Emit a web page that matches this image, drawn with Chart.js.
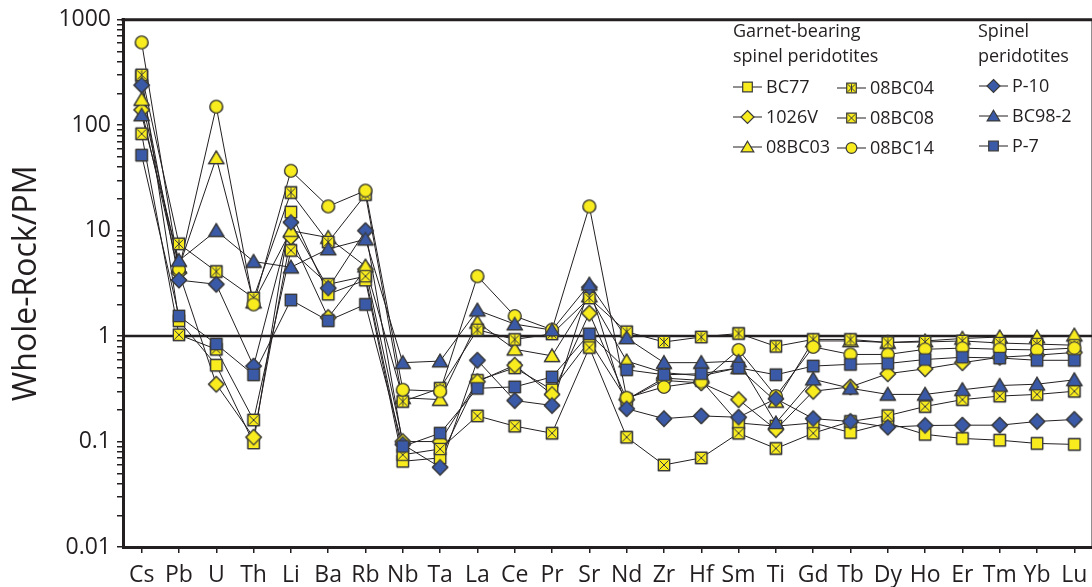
<!DOCTYPE html>
<html>
<head>
<meta charset="utf-8">
<script src="https://cdn.jsdelivr.net/npm/chart.js@4.4.1/dist/chart.umd.min.js"></script>
<style>
  html, body { margin: 0; padding: 0; background: #fff; overflow: hidden; }
  #wrap { width: 1092px; height: 587px; overflow: hidden; position: relative; }
  canvas { display: block; }
</style>
</head>
<body>
<div id="wrap"><canvas id="spider" width="1100" height="587"></canvas></div>
<script>
// element order along the x axis
const elements = ['Cs', 'Pb', 'U', 'Th', 'Li', 'Ba', 'Rb', 'Nb', 'Ta', 'La', 'Ce', 'Pr', 'Sr',
                  'Nd', 'Zr', 'Hf', 'Sm', 'Ti', 'Gd', 'Tb', 'Dy', 'Ho', 'Er', 'Tm', 'Yb', 'Lu'];
const yTickLabels = [0.01, 0.1, 1, 10, 100, 1000];
const pmLevel = 1;

// garnet-bearing spinel peridotites
const bc77   = [290, 1.4, 0.53, 0.097, 15, 2.5, 3.4, 0.065, 0.07, 0.38, 0.5, 0.31, 0.9, 0.25, 0.4, 0.38, 0.15, 0.14, 0.15, 0.122, 0.15, 0.117, 0.107, 0.103, 0.096, 0.094];
const v1026  = [140, 4.0, 0.35, 0.11, 8.7, 1.5, 4.3, 0.1, 0.1, 0.37, 0.53, 0.28, 1.65, 0.25, 0.38, 0.36, 0.25, 0.13, 0.3, 0.33, 0.44, 0.49, 0.56, 0.63, 0.66, 0.7];
const bc03   = [175, 4.5, 49, 2.1, 10, 8.6, 4.6, 0.26, 0.25, 1.35, 0.75, 0.65, 2.4, 0.58, 0.45, 0.42, 0.5, 0.24, 0.9, 0.9, 0.87, 0.9, 0.95, 0.98, 0.98, 1.02];
const bc04   = [300, 7.5, 4.1, 2.3, 23, 7.8, 22, 0.24, 0.32, 1.15, 0.93, 1.05, 2.3, 1.1, 0.88, 0.98, 1.06, 0.8, 0.93, 0.93, 0.87, 0.88, 0.9, 0.86, 0.84, 0.82];
const bc08   = [83, 1.03, 0.75, 0.16, 6.5, 3.1, 3.7, 0.075, 0.085, 0.175, 0.14, 0.12, 0.78, 0.11, 0.06, 0.07, 0.12, 0.086, 0.12, 0.155, 0.176, 0.215, 0.25, 0.27, 0.28, 0.3];
const bc14   = [610, 4.3, 150, 2.0, 37, 17, 24, 0.31, 0.3, 3.7, 1.55, 1.15, 17, 0.26, 0.33, 0.37, 0.74, 0.27, 0.79, 0.67, 0.67, 0.75, 0.77, 0.75, 0.74, 0.77];
// spinel peridotites
const p10    = [240, 3.4, 3.1, 0.52, 12, 2.85, 10, 0.094, 0.057, 0.59, 0.245, 0.22, 2.9, 0.205, 0.165, 0.175, 0.17, 0.255, 0.165, 0.155, 0.137, 0.142, 0.143, 0.143, 0.155, 0.162];
const bc98   = [125, 5.2, 10, 5.1, 4.5, 6.7, 8.3, 0.56, 0.58, 1.76, 1.3, 1.14, 3.1, 0.96, 0.56, 0.56, 0.58, 0.15, 0.39, 0.32, 0.28, 0.28, 0.31, 0.34, 0.35, 0.385];
const p7     = [52, 1.55, 0.84, 0.43, 2.2, 1.4, 2.0, 0.09, 0.12, 0.32, 0.33, 0.41, 1.05, 0.48, 0.43, 0.44, 0.5, 0.43, 0.52, 0.54, 0.55, 0.6, 0.63, 0.62, 0.59, 0.59];

const YELLOW = '#f8ec1e';
const BLUE = '#3a5aa8';
const INK = '#231f20';
const FONT = "'Open Sans', 'Noto Sans', sans-serif";

function drawMarker(ctx, shape, fill, x, y, s) {
    ctx.save();
    ctx.fillStyle = fill;
    ctx.strokeStyle = '#3a3a3a';
    ctx.lineWidth = 1.2;
    ctx.beginPath();
    if (shape === 'circle') {
        ctx.arc(x, y, s * 1.12, 0, Math.PI * 2);
    } else if (shape === 'diamond') {
        const d = s * 1.35;
        ctx.moveTo(x, y - d); ctx.lineTo(x + d, y); ctx.lineTo(x, y + d); ctx.lineTo(x - d, y);
        ctx.closePath();
    } else if (shape === 'triangle') {
        const h = s * 1.2;
        ctx.moveTo(x, y - h); ctx.lineTo(x + h * 1.1, y + h * 0.85); ctx.lineTo(x - h * 1.1, y + h * 0.85);
        ctx.closePath();
    } else {
        ctx.rect(x - s, y - s, s * 2, s * 2);
    }
    ctx.fill();
    ctx.stroke();
    if (shape === 'xsquare' || shape === 'starsquare') {
        ctx.beginPath();
        ctx.lineWidth = 1;
        ctx.moveTo(x - s + 1, y - s + 1); ctx.lineTo(x + s - 1, y + s - 1);
        ctx.moveTo(x + s - 1, y - s + 1); ctx.lineTo(x - s + 1, y + s - 1);
        if (shape === 'starsquare') {
            ctx.moveTo(x, y - s + 1); ctx.lineTo(x, y + s - 1);
        }
        ctx.stroke();
    }
    ctx.restore();
}

function markerImage(shape, fill, s) {
    const c = document.createElement('canvas');
    c.width = 22; c.height = 22;
    drawMarker(c.getContext('2d'), shape, fill, 11, 11, s);
    return c;
}

const series = [
    { label: 'BC77',   data: bc77,  shape: 'square',     fill: YELLOW },
    { label: '1026V',  data: v1026, shape: 'diamond',    fill: YELLOW },
    { label: '08BC03', data: bc03,  shape: 'triangle',   fill: YELLOW },
    { label: '08BC04', data: bc04,  shape: 'starsquare', fill: YELLOW },
    { label: '08BC08', data: bc08,  shape: 'xsquare',    fill: YELLOW },
    { label: '08BC14', data: bc14,  shape: 'circle',     fill: YELLOW },
    { label: 'P-10',   data: p10,   shape: 'diamond',    fill: BLUE },
    { label: 'BC98-2', data: bc98,  shape: 'triangle',   fill: BLUE },
    { label: 'P-7',    data: p7,    shape: 'square',     fill: BLUE }
];

// legend placement: [column x of line start, row y]
const legendSlots = [
    [733, 87], [733, 117], [733, 147],
    [837, 88], [837, 118], [837, 148],
    [979, 86], [979, 116], [979, 146]
];

const yTickValues = [];
yTickLabels.forEach(function(d, i) {
    yTickValues.push(d);
    if (i < yTickLabels.length - 1) {
        for (let m = 2; m <= 9; m++) yTickValues.push(+(d * m).toPrecision(3));
    }
});

const framePlugin = {
    id: 'frame',
    beforeDatasetsDraw(chart) {
        const ctx = chart.ctx;
        const a = chart.chartArea;
        const y1 = chart.scales.y.getPixelForValue(pmLevel);
        ctx.save();
        ctx.strokeStyle = INK;
        ctx.lineWidth = 2.5;
        ctx.beginPath();
        ctx.moveTo(a.left, y1); ctx.lineTo(a.right, y1);
        ctx.stroke();
        ctx.lineWidth = 3;
        ctx.beginPath();
        ctx.moveTo(a.left - 1.5, a.top); ctx.lineTo(a.right, a.top); ctx.lineTo(a.right, a.bottom);
        ctx.stroke();
        ctx.restore();
    },
    afterDatasetsDraw(chart) {
        // markers sit above every line
        const ctx = chart.ctx;
        chart.data.datasets.forEach(function(ds, i) {
            chart.getDatasetMeta(i).data.forEach(function(pt) { pt.draw(ctx, chart.chartArea); });
        });
    },
    afterDraw(chart) {
        const ctx = chart.ctx;
        ctx.save();
        ctx.fillStyle = INK;
        ctx.font = '18px ' + FONT;
        ctx.textBaseline = 'middle';
        ctx.fillText('Garnet-bearing', 733, 32);
        ctx.fillText('spinel peridotites', 733, 57);
        ctx.fillText('Spinel', 978, 32);
        ctx.fillText('peridotites', 978, 57);
        series.forEach(function(s, i) {
            const x = legendSlots[i][0], y = legendSlots[i][1];
            ctx.strokeStyle = INK;
            ctx.lineWidth = 1;
            ctx.beginPath();
            ctx.moveTo(x, y); ctx.lineTo(x + 29, y);
            ctx.stroke();
            drawMarker(ctx, s.shape, s.fill, x + 14.5, y, 4.8);
            ctx.fillStyle = INK;
            ctx.fillText(s.label, x + 33, y + 1);
        });
        ctx.restore();
    }
};

const ctx = document.getElementById('spider').getContext('2d');
const spiderChart = new Chart(ctx, {
    type: 'line',
    data: {
        labels: elements,
        datasets: series.map(function(s) {
            return {
                label: s.label,
                data: s.data,
                borderColor: INK,
                borderWidth: 1,
                tension: 0,
                pointStyle: markerImage(s.shape, s.fill, 5.6),
                pointRadius: 6,
                pointHoverRadius: 6
            };
        })
    },
    options: {
        responsive: false,
        animation: false,
        devicePixelRatio: 1,
        layout: { padding: { top: 16, right: 5, left: 0, bottom: 0 } },
        plugins: {
            legend: { display: false },
            tooltip: { enabled: false }
        },
        scales: {
            x: {
                type: 'category',
                offset: true,
                afterFit: function(scale) { scale.height = 40; },
                ticks: {
                    autoSkip: false,
                    maxRotation: 0,
                    padding: 9,
                    color: INK,
                    font: { family: FONT, size: 23 }
                },
                grid: { drawOnChartArea: false, offset: false, tickLength: 6, color: INK, lineWidth: 1.5 },
                border: { color: INK, width: 3 }
            },
            y: {
                type: 'logarithmic',
                min: 0.01,
                max: 1000,
                afterFit: function(scale) { scale.width = 123; },
                afterBuildTicks: function(scale) {
                    scale.ticks = yTickValues.map(function(v) { return { value: v }; });
                },
                ticks: {
                    autoSkip: false,
                    padding: 6,
                    color: INK,
                    font: { family: FONT, size: 23 },
                    callback: function(value) {
                        return yTickLabels.indexOf(value) >= 0 ? String(value) : '';
                    }
                },
                grid: { drawOnChartArea: false, tickLength: 6, color: INK, lineWidth: 1.5 },
                border: { color: INK, width: 3 },
                title: {
                    display: true,
                    text: 'Whole-Rock/PM',
                    color: INK,
                    font: { family: FONT, size: 32 },
                    padding: { top: 8, bottom: 0 }
                }
            }
        }
    },
    plugins: [framePlugin]
});
</script>
</body>
</html>
